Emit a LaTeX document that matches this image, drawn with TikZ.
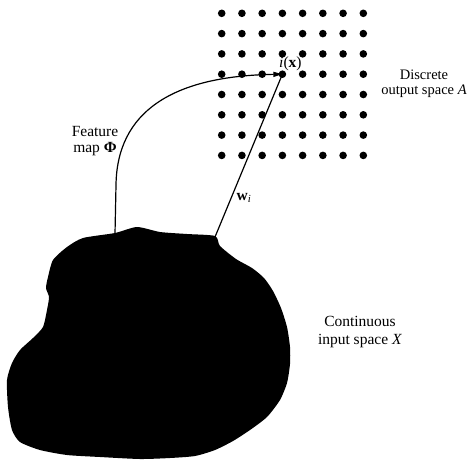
\documentclass[tikz,border=0pt]{standalone}
\usepackage{fontspec}
\setmainfont{Liberation Serif}
\usetikzlibrary{arrows.meta}
\begin{document}
\begin{tikzpicture}[x=1pt,y=-1pt,
  gdot/.style={circle,fill=black,inner sep=0pt,minimum size=7.6pt},
  lbl/.style={font=\fontsize{15.5}{16}\selectfont,align=center,inner sep=0pt},
  conn/.style={line width=1.2pt}]
\useasboundingbox (0,0) rectangle (469,459);
% grid of output units
\foreach \i in {0,...,7}
  \foreach \j in {0,...,7}
    \node[gdot] (d-\i-\j) at ({221.7+20.23*\i},{13.3+20.3*\j}) {};
% continuous input space blob
\fill[black] plot[smooth cycle, tension=0.4] coordinates {
 (137,227) (160,232) (187,234) (215,236) (220,246) (236,259)
 (252,268) (264,278) (273,291) (281,308) (287,327) (290,347) (290,364)
 (287,383) (280,400) (267,417) (250,430) (233,441) (215,450) (195,456)
 (170,458) (140,459) (100,457) (67,455) (40,450) (20,442) (12,430)
 (8,407) (7,380) (12,363) (20,350) (33,338) (43,327) (47,310) (49,297)
 (46,288) (48,277) (53,260) (67,247) (83,238) (115,233)};
\coordinate (fm) at (115,234);
\coordinate (wb) at (215,237);
% connectors
\draw[conn,-{Triangle[length=9pt,width=5pt]}] (fm) -- (116,185)
  .. controls (117,112) and (172,76) .. (d-3-3.center);
\draw[conn] (wb) -- (d-3-3.center);
% labels
\node[lbl,anchor=south west] (ix) at (279,71) {\textit{i}(\textbf{x})};
\node[lbl] (wi) at (244,198) {\textbf{w}\textsubscript{\textit{i}}};
\node[lbl] (feat) at (95,141) {Feature\\map \textbf{Φ}};
\node[lbl,font=\fontsize{14.5}{15}\selectfont] (disc) at (424,84) {Discrete\\output space \textit{A}};
\node[lbl,font=\fontsize{15.5}{18}\selectfont] (cont) at (360,332) {Continuous\\input space \textit{X}};
\end{tikzpicture}
\end{document}
